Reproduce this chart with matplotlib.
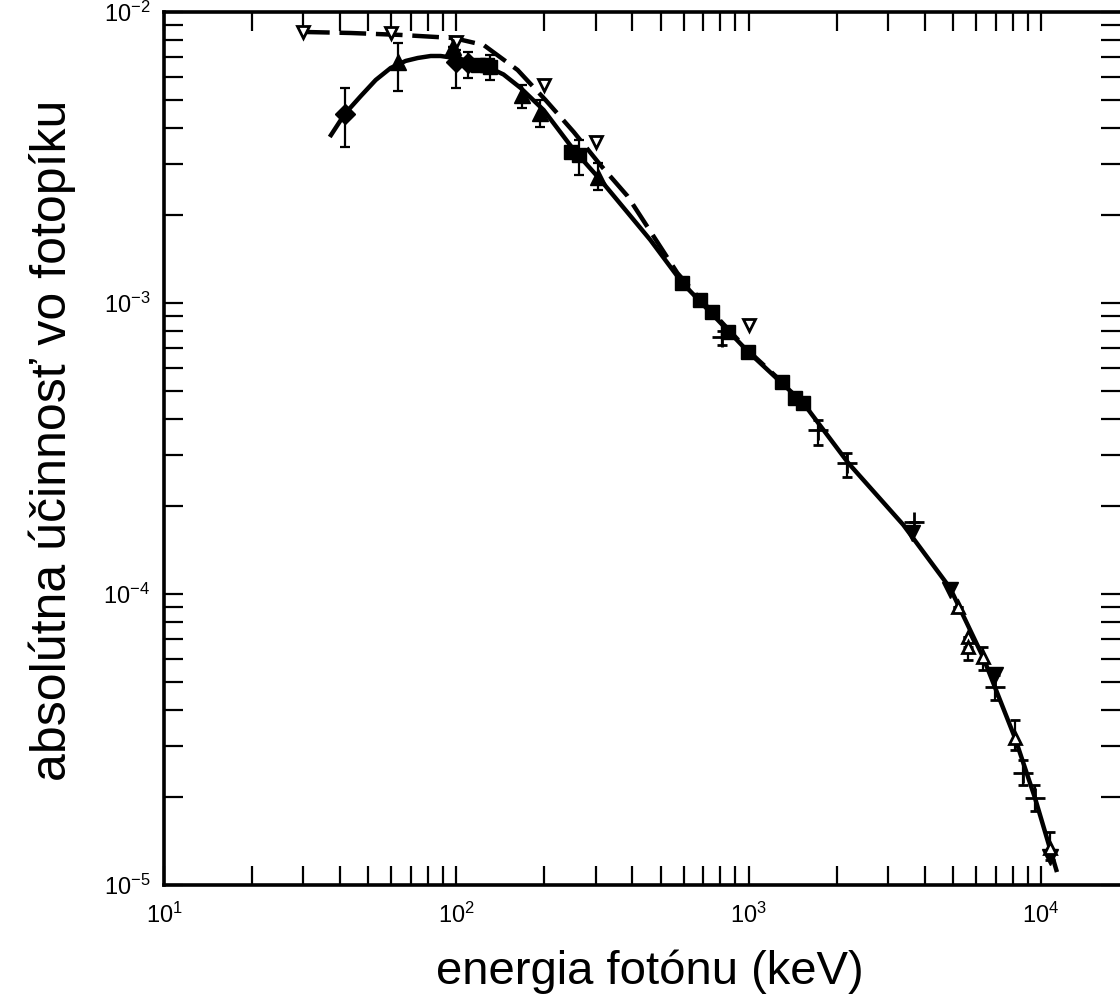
import numpy as np
import matplotlib
matplotlib.use("Agg")
import matplotlib.pyplot as plt
from matplotlib.ticker import LogLocator, NullFormatter

plt.rcParams['font.family'] = ['Liberation Sans', 'DejaVu Sans']
plt.rcParams['mathtext.default'] = 'regular'

# solid curve (lower)
curve_e = [36.9, 41.5, 47.1, 53.0, 59.6, 67.1, 73.8, 81.7, 88.4, 95.6, 110, 124, 145, 166, 199,
           252, 311, 461, 593, 997, 1537, 2190, 3375, 4885, 6332, 8143, 9533, 11330]
curve_eff = [3.72e-3, 4.46e-3, 5.14e-3, 5.84e-3, 6.42e-3, 6.79e-3, 6.95e-3, 7.06e-3, 7.06e-3,
             6.98e-3, 6.8e-3, 6.57e-3, 6.1e-3, 5.48e-3, 4.60e-3, 3.36e-3, 2.65e-3, 1.646e-3,
             1.172e-3, 6.79e-4, 4.53e-4, 2.82e-4, 1.73e-4, 1.048e-4, 6.07e-5, 3.20e-5, 1.99e-5,
             1.108e-5]

# dashed curve (upper)
dash_e = [29.9, 43.5, 64.5, 97.9, 124, 162, 202, 252, 311, 385, 570, 683, 997, 1300]
dash_eff = [8.54e-3, 8.47e-3, 8.34e-3, 8.14e-3, 7.70e-3, 6.32e-3, 4.98e-3, 3.87e-3, 2.98e-3,
            2.33e-3, 1.268e-3, 1.03e-3, 6.85e-4, 5.35e-4]

# filled diamonds
dia_e = [41.5, 99.6, 110]
dia_eff = [4.46e-3, 6.73e-3, 6.68e-3]
dia_lo = [3.44e-3, 5.48e-3, 5.93e-3]
dia_hi = [5.48e-3, 7.41e-3, 7.29e-3]

# filled squares
sq_e = [119, 127, 130, 246, 262, 593, 683, 751, 852, 997, 1302, 1443, 1537]
sq_eff = [6.57e-3, 6.57e-3, 6.47e-3, 3.30e-3, 3.23e-3, 1.172e-3, 1.024e-3, 9.31e-4, 7.95e-4,
          6.79e-4, 5.35e-4, 4.72e-4, 4.53e-4]
sq_lo = [6.57e-3, 6.57e-3, 5.84e-3, 3.30e-3, 2.75e-3, 1.172e-3, 1.024e-3, 9.31e-4, 7.95e-4,
         6.79e-4, 5.35e-4, 4.72e-4, 4.53e-4]
sq_hi = [6.57e-3, 6.57e-3, 7.12e-3, 3.30e-3, 3.63e-3, 1.172e-3, 1.024e-3, 9.31e-4, 7.95e-4,
         6.79e-4, 5.35e-4, 4.72e-4, 4.53e-4]

# filled triangles up
tri_e = [63.0, 97.1, 168, 194, 306]
tri_eff = [6.73e-3, 7.58e-3, 5.19e-3, 4.50e-3, 2.71e-3]
tri_lo = [5.35e-3, 7.58e-3, 4.68e-3, 4.03e-3, 2.45e-3]
tri_hi = [7.82e-3, 7.58e-3, 5.61e-3, 4.98e-3, 3.03e-3]

# open triangles down
otd_e = [29.9, 59.7, 100, 199, 301, 1000]
otd_eff = [8.54e-3, 8.47e-3, 7.88e-3, 5.61e-3, 3.57e-3, 8.4e-4]

# crosses
cr_e = [813, 1729, 2173, 3680, 6957, 8675, 9533]
cr_eff = [7.64e-4, 3.66e-4, 2.82e-4, 1.77e-4, 4.79e-5, 2.43e-5, 1.99e-5]
cr_lo = [7.2e-4, 3.25e-4, 2.52e-4, 1.77e-4, 4.32e-5, 2.2e-5, 1.8e-5]
cr_hi = [8.0e-4, 3.96e-4, 3.05e-4, 1.77e-4, 5.27e-5, 2.68e-5, 2.2e-5]

# filled triangles down
ftd_e = [3622, 4885, 6957, 10725]
ftd_eff = [1.62e-4, 1.032e-4, 5.27e-5, 1.25e-5]

# open triangles up
otu_e = [5200, 5626, 5626, 6332, 8143, 10725]
otu_eff = [9.02e-5, 7.12e-5, 6.57e-5, 6.07e-5, 3.20e-5, 1.34e-5]
otu_lo = [9.02e-5, 7.12e-5, 5.93e-5, 5.5e-5, 2.91e-5, 1.22e-5]
otu_hi = [9.02e-5, 7.12e-5, 6.57e-5, 6.6e-5, 3.69e-5, 1.52e-5]

fig = plt.figure(figsize=(11.2, 10), dpi=100)
ax = fig.add_axes([0.1464, 0.115, 0.8536, 0.873])

ax.plot(curve_e, curve_eff, color='black', lw=3.2, solid_capstyle='butt', solid_joinstyle='round')
ax.plot(dash_e, dash_eff, color='black', lw=3.2, linestyle=(0, (6, 2.2)))

def errs(v, lo, hi):
    v = np.array(v); return [v - np.array(lo), np.array(hi) - v]

ekw = dict(ecolor='black', elinewidth=1.6, capsize=3.5, capthick=1.6, linestyle='none', color='black')
ax.errorbar(dia_e, dia_eff, yerr=errs(dia_eff, dia_lo, dia_hi), marker='D', ms=10, **ekw)
ax.errorbar(sq_e, sq_eff, yerr=errs(sq_eff, sq_lo, sq_hi), marker='s', ms=10, **ekw)
ax.errorbar(tri_e, tri_eff, yerr=errs(tri_eff, tri_lo, tri_hi), marker='^', ms=11, **ekw)
ax.errorbar(cr_e, cr_eff, yerr=errs(cr_eff, cr_lo, cr_hi), marker='+', ms=14, mew=2, **ekw)
ax.errorbar(otu_e, otu_eff, yerr=errs(otu_eff, otu_lo, otu_hi), marker='^', ms=9, mfc='white', mew=2, **ekw)
ax.plot(otd_e, otd_eff, linestyle='none', marker='v', ms=9, mfc='white', mec='black', mew=2)
ax.plot(ftd_e, ftd_eff, linestyle='none', marker='v', ms=11, color='black')

ax.set_xscale('log')
ax.set_yscale('log')
ax.set_xlim(10, 10 ** (4 + 79 / 292.7))
ax.set_ylim(1e-5, 1e-2)

for a in (ax.xaxis, ax.yaxis):
    a.set_major_locator(LogLocator(base=10, numticks=10))
    a.set_minor_locator(LogLocator(base=10, subs=np.arange(2, 10), numticks=20))
    a.set_minor_formatter(NullFormatter())

ax.tick_params(which='both', direction='in', top=True, right=True, length=14, width=1.6)
ax.tick_params(axis='x', which='major', labelsize=17, pad=13)
ax.tick_params(axis='y', which='major', labelsize=17, pad=10)
for s in ax.spines.values():
    s.set_linewidth(2.6)
ax.spines['right'].set_visible(False)

fig.text(650 / 1120, 1 - 972 / 1000, 'energia fotónu (keV)', fontsize=34, ha='center', va='center')
fig.text(52 / 1120, 1 - 440 / 1000, 'absolútna účinnosť vo fotopíku', fontsize=36,
         rotation=90, ha='center', va='center')

fig.savefig('out.png', dpi=100)
